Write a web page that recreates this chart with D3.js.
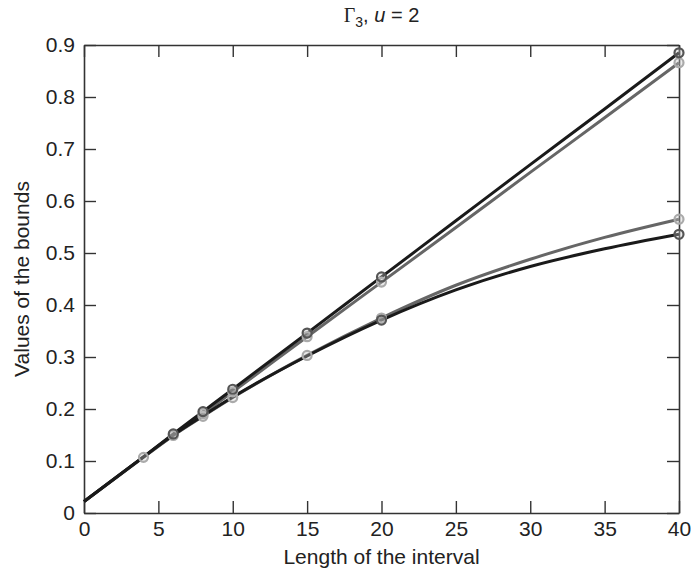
<!DOCTYPE html>
<html>
<head>
<meta charset="utf-8">
<script src="https://cdn.jsdelivr.net/npm/d3@7/dist/d3.min.js"></script>
<style>
  body { margin: 0; background: #fff; }
  svg text { font-family: "Liberation Sans", Arial, sans-serif; fill: #222; }
</style>
</head>
<body>
<svg id="chart" width="693" height="581"></svg>
<script>
// values
var lineX = [0, 4, 6, 8, 10, 15, 20, 25, 30, 35, 40];

var upperBlack = [0.022, 0.108, 0.152, 0.195, 0.238, 0.346, 0.454, 0.562, 0.670, 0.777, 0.885];
var upperGray  = [0.022, 0.107, 0.149, 0.191, 0.233, 0.339, 0.444, 0.549, 0.655, 0.760, 0.866];
var lowerBlack = [0.022, 0.108, 0.150, 0.187, 0.223, 0.302, 0.371, 0.429, 0.474, 0.508, 0.536];
var lowerGray  = [0.022, 0.108, 0.149, 0.186, 0.222, 0.303, 0.375, 0.438, 0.488, 0.530, 0.565];

// where each curve carries a circle marker
var upperBlackMarks = [6, 8, 10, 15, 20, 40];
var upperGrayMarks  = [4, 6, 8, 10, 15, 20, 40];
var lowerBlackMarks = [20, 40];
var lowerGrayMarks  = [8, 10, 15, 20, 40];

var xTicks = [0, 5, 10, 15, 20, 25, 30, 35, 40];
var yTicks = [0, 0.1, 0.2, 0.3, 0.4, 0.5, 0.6, 0.7, 0.8, 0.9];

var series = [
  { values: lowerGray,  marks: lowerGrayMarks,  line: "#666666", mark: "#aaaaaa" },
  { values: upperGray,  marks: upperGrayMarks,  line: "#666666", mark: "#aaaaaa" },
  { values: lowerBlack, marks: lowerBlackMarks, line: "#1a1a1a", mark: "#555555" },
  { values: upperBlack, marks: upperBlackMarks, line: "#1a1a1a", mark: "#555555" }
];

(function () {
  var svg = d3.select("#chart");
  var mLeft = 84, mRight = 679, mTop = 45, mBottom = 513;

  var x = d3.scaleLinear().domain([0, 40]).range([mLeft, mRight]);
  var y = d3.scaleLinear().domain([0, 0.9]).range([mBottom, mTop]);

  var TICK = 12;

  // axes, ticks pointing inward on all four sides
  var axB = svg.append("g").attr("transform", "translate(0," + mBottom + ")")
    .call(d3.axisBottom(x).tickValues(xTicks).tickSizeInner(-TICK).tickSizeOuter(0).tickPadding(8));
  var axT = svg.append("g").attr("transform", "translate(0," + mTop + ")")
    .call(d3.axisTop(x).tickValues(xTicks).tickSizeInner(-TICK).tickSizeOuter(0).tickFormat(""));
  var axL = svg.append("g").attr("transform", "translate(" + mLeft + ",0)")
    .call(d3.axisLeft(y).tickValues(yTicks).tickSizeInner(-TICK).tickSizeOuter(0).tickPadding(9)
      .tickFormat(function (d) { return d === 0 ? "0" : d3.format(".1f")(d); }));
  var axR = svg.append("g").attr("transform", "translate(" + mRight + ",0)")
    .call(d3.axisRight(y).tickValues(yTicks).tickSizeInner(-TICK).tickSizeOuter(0).tickFormat(""));

  [axB, axT, axL, axR].forEach(function (g) {
    g.attr("font-size", null).attr("font-family", null);
    g.select(".domain").attr("stroke", "#333").attr("stroke-width", 1.6);
    g.selectAll(".tick line").attr("stroke", "#333").attr("stroke-width", 1.4);
    g.selectAll(".tick text").style("font-size", "21px").attr("fill", "#222");
  });

  // lines
  var line = d3.line()
    .x(function (d) { return x(d[0]); })
    .y(function (d) { return y(d[1]); })
    .curve(d3.curveMonotoneX);

  series.forEach(function (s) {
    var pts = lineX.map(function (v, i) { return [v, s.values[i]]; });
    svg.append("path").datum(pts)
      .attr("fill", "none")
      .attr("stroke", s.line)
      .attr("stroke-width", 3)
      .attr("d", line);
  });

  // markers
  series.forEach(function (s) {
    var pts = s.marks.map(function (v) { return [v, s.values[lineX.indexOf(v)]]; });
    svg.append("g").selectAll("circle").data(pts).enter().append("circle")
      .attr("cx", function (d) { return x(d[0]); })
      .attr("cy", function (d) { return y(d[1]); })
      .attr("r", 4.5)
      .attr("fill", "rgba(200,200,200,0.35)")
      .attr("stroke", s.mark)
      .attr("stroke-width", 2.2);
  });

  // labels
  svg.append("text")
    .attr("x", (mLeft + mRight) / 2).attr("y", 564)
    .attr("text-anchor", "middle").style("font-size", "21px")
    .text("Length of the interval");

  svg.append("text")
    .attr("transform", "translate(29," + ((mTop + mBottom) / 2) + ") rotate(-90)")
    .attr("text-anchor", "middle").style("font-size", "21px")
    .text("Values of the bounds");

  var title = svg.append("text")
    .attr("x", (mLeft + mRight) / 2).attr("y", 22)
    .attr("text-anchor", "middle").style("font-size", "20px");
  title.append("tspan").style("font-family", "'Liberation Serif', 'Times New Roman', serif").text("Γ");
  title.append("tspan").attr("dy", 5).style("font-size", "14px").text("3");
  title.append("tspan").attr("dy", -5).text(", ");
  title.append("tspan").style("font-style", "italic").text("u");
  title.append("tspan").text(" = 2");
})();
</script>
</body>
</html>
